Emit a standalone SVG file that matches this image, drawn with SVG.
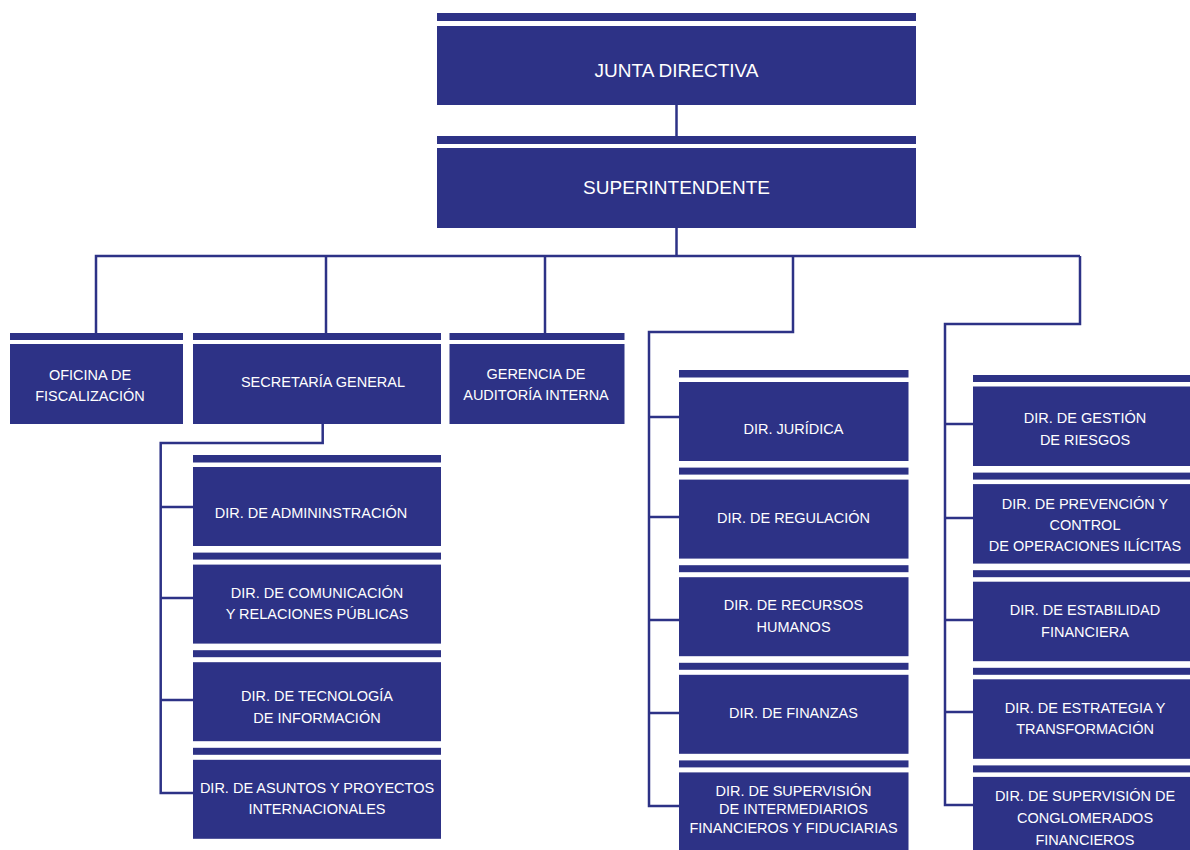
<svg xmlns="http://www.w3.org/2000/svg" width="1190" height="850" viewBox="0 0 1190 850">
<style>
.box{fill:#2d3286}
.lbl{font-family:"Liberation Sans",Arial,sans-serif;font-size:14.5px;fill:#ffffff;text-anchor:middle}
.big{font-size:19px}
.conn{fill:none;stroke:#2d3286;stroke-width:2.5}
</style>
<rect width="1190" height="850" fill="#ffffff"/>
<g id="connectors" class="conn">
<path d="M676.5 105V137"/>
<path d="M676.5 228V256"/>
<path d="M96 334V256H1080"/>
<path d="M326 256V334"/>
<path d="M545 256V334"/>
<path d="M793 256V332H649V806H680"/>
<path d="M649 417H680M649 517H680M649 620H680M649 713H680"/>
<path d="M1080 256V324H945V805H974"/>
<path d="M945 424H974M945 518H974M945 620H974M945 712H974"/>
<path d="M322.7 424V443H160.7V793H193"/>
<path d="M160.7 507H193M160.7 598H193M160.7 700H193"/>
</g>
<g id="junta"><rect class="box" x="437" y="13" width="479" height="8"/><rect class="box" x="437" y="26" width="479" height="79"/><text class="lbl big" x="676.5" y="76.5">JUNTA DIRECTIVA</text></g>
<g id="superintendente"><rect class="box" x="437" y="136" width="479" height="8"/><rect class="box" x="437" y="148" width="479" height="80"/><text class="lbl big" x="676.5" y="193.5">SUPERINTENDENTE</text></g>
<g id="oficina"><rect class="box" x="10" y="333" width="173" height="7"/><rect class="box" x="10" y="344" width="173" height="80"/><text class="lbl" x="90" y="379.5">OFICINA DE</text><text class="lbl" x="90" y="400.5">FISCALIZACIÓN</text></g>
<g id="secretaria"><rect class="box" x="193" y="333" width="248" height="7"/><rect class="box" x="193" y="344" width="248" height="80"/><text class="lbl" x="323" y="386.5">SECRETARÍA GENERAL</text></g>
<g id="gerencia"><rect class="box" x="449.5" y="333" width="175" height="7"/><rect class="box" x="449.5" y="344" width="175" height="80"/><text class="lbl" x="536" y="378.5">GERENCIA DE</text><text class="lbl" x="536" y="399.5">AUDITORÍA INTERNA</text></g>
<g id="dir-administracion"><rect class="box" x="193" y="455" width="248" height="7.5"/><rect class="box" x="193" y="467" width="248" height="79"/><text class="lbl" x="311" y="517.5">DIR. DE ADMININSTRACIÓN</text></g>
<g id="dir-comunicacion"><rect class="box" x="193" y="552.6" width="248" height="7"/><rect class="box" x="193" y="564.6" width="248" height="79"/><text class="lbl" x="317" y="597.5">DIR. DE COMUNICACIÓN</text><text class="lbl" x="317" y="618.5">Y RELACIONES PÚBLICAS</text></g>
<g id="dir-tecnologia"><rect class="box" x="193" y="650.2" width="248" height="7"/><rect class="box" x="193" y="662.2" width="248" height="79"/><text class="lbl" x="317" y="700.5">DIR. DE TECNOLOGÍA</text><text class="lbl" x="317" y="722.5">DE INFORMACIÓN</text></g>
<g id="dir-asuntos"><rect class="box" x="193" y="747.8" width="248" height="7"/><rect class="box" x="193" y="759.8" width="248" height="79"/><text class="lbl" x="317" y="792.5">DIR. DE ASUNTOS Y PROYECTOS</text><text class="lbl" x="317" y="813.5">INTERNACIONALES</text></g>
<g id="dir-juridica"><rect class="box" x="679" y="370" width="229.5" height="7.5"/><rect class="box" x="679" y="382" width="229.5" height="79"/><text class="lbl" x="793.5" y="433.5">DIR. JURÍDICA</text></g>
<g id="dir-regulacion"><rect class="box" x="679" y="467.6" width="229.5" height="7"/><rect class="box" x="679" y="479.6" width="229.5" height="79"/><text class="lbl" x="793.5" y="522.5">DIR. DE REGULACIÓN</text></g>
<g id="dir-recursos"><rect class="box" x="679" y="565.2" width="229.5" height="7"/><rect class="box" x="679" y="577.2" width="229.5" height="79"/><text class="lbl" x="793.5" y="609.5">DIR. DE RECURSOS</text><text class="lbl" x="793.5" y="631.5">HUMANOS</text></g>
<g id="dir-finanzas"><rect class="box" x="679" y="662.8" width="229.5" height="7"/><rect class="box" x="679" y="674.8" width="229.5" height="79"/><text class="lbl" x="793.5" y="717.5">DIR. DE FINANZAS</text></g>
<g id="dir-supervision-intermediarios"><rect class="box" x="679" y="760.4" width="229.5" height="7"/><rect class="box" x="679" y="772.4" width="229.5" height="85"/><text class="lbl" x="793.5" y="795.5">DIR. DE SUPERVISIÓN</text><text class="lbl" x="793.5" y="814">DE INTERMEDIARIOS</text><text class="lbl" x="793.5" y="832.5">FINANCIEROS Y FIDUCIARIAS</text></g>
<g id="dir-riesgos"><rect class="box" x="973" y="375" width="222" height="7"/><rect class="box" x="973" y="386.5" width="222" height="79.5"/><text class="lbl" x="1085" y="422.5">DIR. DE GESTIÓN</text><text class="lbl" x="1085" y="444.5">DE RIESGOS</text></g>
<g id="dir-prevencion"><rect class="box" x="973" y="472.6" width="222" height="7"/><rect class="box" x="973" y="484.1" width="222" height="79.5"/><text class="lbl" x="1085" y="508.5">DIR. DE PREVENCIÓN Y</text><text class="lbl" x="1085" y="529.5">CONTROL</text><text class="lbl" x="1085" y="550.5">DE OPERACIONES ILÍCITAS</text></g>
<g id="dir-estabilidad"><rect class="box" x="973" y="570.2" width="222" height="7"/><rect class="box" x="973" y="581.7" width="222" height="79.5"/><text class="lbl" x="1085" y="614.5">DIR. DE ESTABILIDAD</text><text class="lbl" x="1085" y="636.5">FINANCIERA</text></g>
<g id="dir-estrategia"><rect class="box" x="973" y="667.8" width="222" height="7"/><rect class="box" x="973" y="679.3" width="222" height="79.5"/><text class="lbl" x="1085" y="712.5">DIR. DE ESTRATEGIA Y</text><text class="lbl" x="1085" y="733.5">TRANSFORMACIÓN</text></g>
<g id="dir-conglomerados"><rect class="box" x="973" y="765.4" width="222" height="7"/><rect class="box" x="973" y="776.9" width="222" height="85"/><text class="lbl" x="1085" y="800.5">DIR. DE SUPERVISIÓN DE</text><text class="lbl" x="1085" y="822.5">CONGLOMERADOS</text><text class="lbl" x="1085" y="844.5">FINANCIEROS</text></g>
</svg>
